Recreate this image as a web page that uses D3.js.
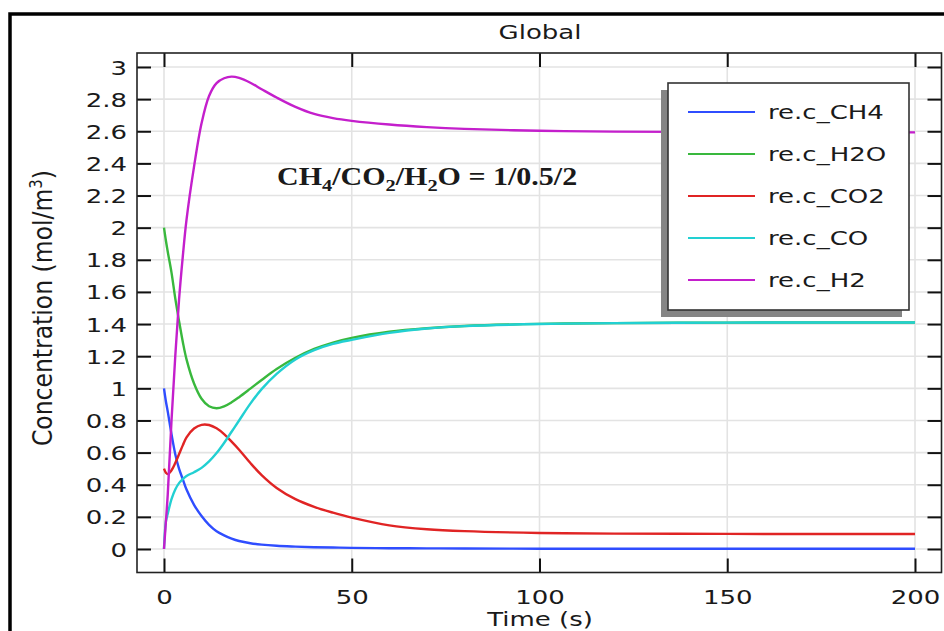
<!DOCTYPE html>
<html>
<head>
<meta charset="utf-8">
<script src="https://cdn.jsdelivr.net/npm/d3@7"></script>
<style>
  html, body { margin: 0; padding: 0; background: #fff; }
  svg { display: block; }
  text { font-family: "DejaVu Sans", sans-serif; fill: #1a1a1a; }
</style>
</head>
<body>
<svg id="chart" width="944" height="631"></svg>
<script>
// Sample times (s)
const times = [0, 0.5, 1, 2, 3, 4, 5, 6, 8, 10, 12, 14, 16, 18, 20, 23, 26, 30, 35, 40, 45, 50, 60, 70, 80, 100, 120, 150, 175, 200];

// Concentrations (mol/m^3) at each sample time
const cCH4 = [1.0, 0.92, 0.855, 0.715, 0.59, 0.5, 0.435, 0.37, 0.275, 0.205, 0.15, 0.11, 0.085, 0.065, 0.05, 0.036, 0.027, 0.02, 0.015, 0.011, 0.009, 0.007, 0.005, 0.004, 0.003, 0.002, 0.002, 0.002, 0.002, 0.002];
const cH2O = [2.0, 1.92, 1.85, 1.72, 1.56, 1.42, 1.29, 1.18, 1.03, 0.935, 0.888, 0.876, 0.888, 0.913, 0.945, 0.998, 1.052, 1.12, 1.19, 1.245, 1.285, 1.314, 1.352, 1.374, 1.388, 1.401, 1.406, 1.409, 1.41, 1.41];
const cCO2 = [0.5, 0.475, 0.466, 0.49, 0.535, 0.59, 0.645, 0.695, 0.75, 0.773, 0.772, 0.751, 0.715, 0.668, 0.618, 0.535, 0.46, 0.38, 0.31, 0.262, 0.226, 0.195, 0.147, 0.123, 0.111, 0.1, 0.096, 0.094, 0.093, 0.093];
const cCO  = [0, 0.17, 0.22, 0.31, 0.37, 0.41, 0.435, 0.455, 0.478, 0.505, 0.545, 0.597, 0.66, 0.73, 0.8, 0.905, 0.995, 1.09, 1.18, 1.238, 1.277, 1.302, 1.345, 1.372, 1.387, 1.4, 1.406, 1.409, 1.41, 1.41];
const cH2  = [0, 0.17, 0.34, 0.8, 1.2, 1.55, 1.82, 2.05, 2.38, 2.65, 2.82, 2.9, 2.93, 2.94, 2.932, 2.902, 2.862, 2.81, 2.752, 2.708, 2.682, 2.665, 2.642, 2.626, 2.615, 2.603, 2.598, 2.595, 2.594, 2.593];

const seriesNames = ["re.c_CH4", "re.c_H2O", "re.c_CO2", "re.c_CO", "re.c_H2"];
const seriesValues = [cCH4, cH2O, cCO2, cCO, cH2];
const seriesColors = ["#2f4dff", "#39b83d", "#e02424", "#22d0d2", "#c41fcc"];

const xTicks = [0, 50, 100, 150, 200];
const yTicks = [0, 0.2, 0.4, 0.6, 0.8, 1, 1.2, 1.4, 1.6, 1.8, 2, 2.2, 2.4, 2.6, 2.8, 3];

const SX = 1.3; // horizontal stretch applied to the sans-serif labels

const svg = d3.select("#chart");

// plot frame
const frame = { left: 137, top: 53, right: 941.5, bottom: 572.5 };
const x = d3.scaleLinear().domain([0, 200]).range([164, 915]);
const y = d3.scaleLinear().domain([0, 3]).range([549, 67]);

// outer border (top and left edges visible)
svg.append("rect")
  .attr("x", 10).attr("y", 14).attr("width", 960).attr("height", 660)
  .attr("fill", "none").attr("stroke", "#000").attr("stroke-width", 3.5);

// clip for the curves
svg.append("clipPath").attr("id", "plotclip")
  .append("rect")
  .attr("x", frame.left).attr("y", frame.top)
  .attr("width", frame.right - frame.left).attr("height", frame.bottom - frame.top);

// grid
const grid = svg.append("g").attr("stroke", "#e3e3e3").attr("stroke-width", 1.6);
grid.selectAll("line.gx").data(xTicks).join("line")
  .attr("x1", d => x(d)).attr("x2", d => x(d))
  .attr("y1", frame.top).attr("y2", frame.bottom);
grid.selectAll("line.gy").data(yTicks).join("line")
  .attr("y1", d => y(d)).attr("y2", d => y(d))
  .attr("x1", frame.left).attr("x2", frame.right);

// curves
const line = d3.line()
  .x((d, i) => x(times[i]))
  .y(d => y(d))
  .curve(d3.curveCatmullRom.alpha(0.5));

svg.append("g").attr("clip-path", "url(#plotclip)")
  .selectAll("path").data(seriesValues).join("path")
  .attr("d", d => line(d))
  .attr("fill", "none")
  .attr("stroke", (d, i) => seriesColors[i])
  .attr("stroke-width", 2.4)
  .attr("stroke-linejoin", "round");

// axes: inward ticks on all four sides
const tickLen = 14;
const axL = svg.append("g").attr("transform", `translate(${frame.left},0)`)
  .call(d3.axisLeft(y).tickValues(yTicks).tickSizeInner(-tickLen).tickSizeOuter(0).tickPadding(0)
    .tickFormat(d3.format("~g")));
const axR = svg.append("g").attr("transform", `translate(${frame.right},0)`)
  .call(d3.axisRight(y).tickValues(yTicks).tickSizeInner(-tickLen).tickSizeOuter(0).tickFormat(""));
const axB = svg.append("g").attr("transform", `translate(0,${frame.bottom})`)
  .call(d3.axisBottom(x).tickValues(xTicks).tickSizeInner(-tickLen).tickSizeOuter(0).tickPadding(0));
const axT = svg.append("g").attr("transform", `translate(0,${frame.top})`)
  .call(d3.axisTop(x).tickValues(xTicks).tickSizeInner(-tickLen).tickSizeOuter(0).tickFormat(""));

[axL, axR, axB, axT].forEach(a => {
  a.select(".domain").remove();
  a.selectAll(".tick line").attr("stroke", "#111").attr("stroke-width", 2);
});

axL.selectAll(".tick text")
  .attr("x", 0).attr("dy", null)
  .attr("transform", `translate(-10,7) scale(${SX},1)`)
  .attr("text-anchor", "end")
  .style("font-size", "20px").style("font-family", "DejaVu Sans").attr("fill", "#1a1a1a");
axB.selectAll(".tick text")
  .attr("y", 0).attr("dy", null)
  .attr("transform", `translate(0,31) scale(${SX},1)`)
  .attr("text-anchor", "middle")
  .style("font-size", "20px").style("font-family", "DejaVu Sans").attr("fill", "#1a1a1a");

// plot frame
svg.append("rect")
  .attr("x", frame.left).attr("y", frame.top)
  .attr("width", frame.right - frame.left).attr("height", frame.bottom - frame.top)
  .attr("fill", "none").attr("stroke", "#222").attr("stroke-width", 1.6);

// title
svg.append("text")
  .attr("transform", `translate(540,39) scale(${SX},1)`)
  .attr("text-anchor", "middle").style("font-size", "20px")
  .text("Global");

// x axis label
svg.append("text")
  .attr("transform", `translate(540,626) scale(${SX},1)`)
  .attr("text-anchor", "middle").style("font-size", "20px")
  .text("Time (s)");

// y axis label
const yl = svg.append("text")
  .attr("transform", `translate(52,308) scale(1.15,1) rotate(-90)`)
  .attr("text-anchor", "middle").style("font-size", "23.5px");
yl.append("tspan").text("Concentration (mol/m");
yl.append("tspan").attr("dy", -9).style("font-size", "15px").text("3");
yl.append("tspan").attr("dy", 9).text(")");

// ratio annotation
const ann = svg.append("text")
  .attr("transform", `translate(277,185) scale(1.2,1)`)
  .style("font-family", "'Liberation Serif', 'Times New Roman', serif")
  .style("font-weight", "bold").style("font-size", "25px").attr("fill", "#000");
const annParts = [["CH", 0], ["4", 1], ["/CO", 0], ["2", 1], ["/H", 0], ["2", 1], ["O = 1/0.5/2", 0]];
let prevSub = 0;
annParts.forEach(([t, sub]) => {
  ann.append("tspan")
    .attr("dy", sub === prevSub ? 0 : (sub ? 6 : -6))
    .style("font-size", sub ? "17px" : "25px")
    .text(t);
  prevSub = sub;
});

// legend
const lg = { x: 668, y: 83, w: 241, h: 227 };
svg.append("rect")
  .attr("x", lg.x - 7).attr("y", lg.y + 7).attr("width", lg.w).attr("height", lg.h)
  .attr("fill", "#858585");
svg.append("rect")
  .attr("x", lg.x).attr("y", lg.y).attr("width", lg.w).attr("height", lg.h)
  .attr("fill", "#fff").attr("stroke", "#333").attr("stroke-width", 1.6);

const items = svg.append("g").selectAll("g").data(seriesNames).join("g")
  .attr("transform", (d, i) => `translate(0,${112 + i * 42})`);
items.append("line")
  .attr("x1", 688).attr("x2", 755)
  .attr("stroke", (d, i) => seriesColors[i]).attr("stroke-width", 2);
items.append("text")
  .attr("transform", `translate(768,7) scale(${SX},1)`)
  .style("font-size", "20px")
  .text(d => d);
</script>
</body>
</html>
